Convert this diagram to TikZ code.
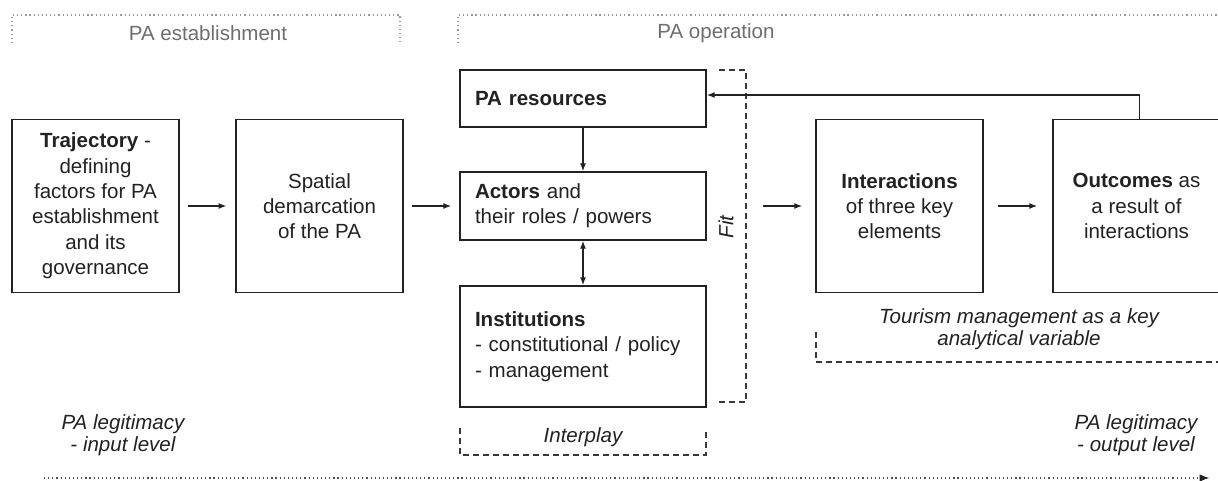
\documentclass[tikz,border=0pt]{standalone}
\usepackage{fontspec}
\setmainfont{Liberation Sans}
\usetikzlibrary{arrows.meta}
\definecolor{ink}{HTML}{222222}
\definecolor{hdr}{HTML}{6E6E6E}
\definecolor{dotc}{HTML}{9A9A9A}
\tikzset{
  box/.style={draw=ink, line width=1.1pt, inner sep=0pt, text=ink,
    font=\fontsize{15.4pt}{19pt}\selectfont},
  cbox/.style={box, minimum width=125.25pt, minimum height=130pt, align=center},
  lbox/.style={box, minimum width=184.5pt, text width=162pt, inner xsep=11.25pt, align=left},
  arr/.style={draw=ink, line width=1pt, -{Latex[length=6pt,width=4.5pt]}},
  darr/.style={draw=ink, line width=1pt, {Latex[length=6pt,width=4.5pt]}-{Latex[length=6pt,width=4.5pt]}},
  dashbr/.style={draw=ink!90, line width=1pt, dash pattern=on 4.5pt off 3pt},
  dotbr/.style={draw=dotc, line width=1.1pt, dash pattern=on 0.9pt off 2.2pt},
  hdrtext/.style={text=hdr, font=\fontsize{15.4pt}{19pt}\selectfont},
  ittext/.style={text=ink, align=center, font=\fontsize{15.4pt}{16.5pt}\selectfont\itshape},
}
\begin{document}
\begin{tikzpicture}[x=0.75pt, y=-0.75pt]
\useasboundingbox (0,0) rectangle (1218,481);
\clip (0,0) rectangle (1218,481);
\fill[white] (0,0) rectangle (1218,481);

% header brackets
\draw[dotbr] (12,43) -- (12,15) -- (400,15) -- (400,43);
\draw[dotbr] (458,43) -- (458,15) -- (1240,15);
\node[hdrtext] (hest) at (208,33) {PA establishment};
\node[hdrtext] (hop) at (716,33) {PA operation};

% boxes
\node[cbox] (traj) at (95.5,206) {\textbf{Trajectory} -\\defining\\factors for PA\\establishment\\and its\\governance};
\node[cbox] (spat) at (319.5,206) {Spatial\\demarcation\\of the PA};
\node[lbox, minimum height=42.75pt] (res) at (583,98.5) {\textbf{PA resources}};
\node[lbox, minimum height=51pt] (act) at (583,206) {\textbf{Actors} and\\their roles / powers};
\node[lbox, minimum height=90.75pt] (inst) at (583,346.5) {\textbf{Institutions}\\- constitutional / policy\\- management};
\node[cbox] (inter) at (899.5,206) {\textbf{Interactions}\\of three key\\elements};
\node[cbox] (outc) at (1136.5,206) {\textbf{Outcomes} as\\a result of\\interactions};

% Fit bracket
\draw[dashbr] (719,70) -- (746,70) -- (746,402) -- (718,402);
\node[ittext, rotate=90] (fit) at (726,227) {Fit};
\coordinate (fitR) at (746,206);

% connectors
\draw[arr, shorten <=6pt, shorten >=6.5pt] (traj.east) -- (spat.west);
\draw[arr, shorten <=6pt, shorten >=6pt] (spat.east) -- (act.west);
\draw[arr] (res.south) -- (act.north);
\draw[darr] (act.south) -- (inst.north);
\draw[arr, shorten <=12.75pt, shorten >=9.75pt] (fitR) -- (inter.west);
\draw[arr, shorten <=10.5pt, shorten >=11.25pt] (inter.east) -- (outc.west);
\draw[arr] ([xshift=2pt]outc.north) |- ([yshift=2.6pt]res.east);

% Interplay bracket
\draw[dashbr] (460,428) -- (460,455) -- (706,455) -- (706,428);
\node[ittext] (interplay) at (583,437) {Interplay};

% Tourism bracket
\node[ittext] (tour) at (1019,329) {Tourism management as a key\\analytical variable};
\draw[dashbr] (816,332) -- (816,362) -- (1240,362);

% legitimacy
\node[ittext] (legin) at (123,435) {PA legitimacy\\- input level};
\node[ittext] (legout) at (1136,435) {PA legitimacy\\- output level};

% bottom arrow
\coordinate (bstart) at (44,478);
\coordinate (bend) at (1209,478);
\draw[draw=ink!80, line width=1.1pt, dash pattern=on 0.9pt off 2.2pt] (bstart) -- ([xshift=-5pt]bend);
\draw[draw=ink, fill=ink, line width=0.5pt, -{Latex[length=7pt,width=5.5pt]}] ([xshift=-5pt]bend) -- (bend);
\end{tikzpicture}
\end{document}
